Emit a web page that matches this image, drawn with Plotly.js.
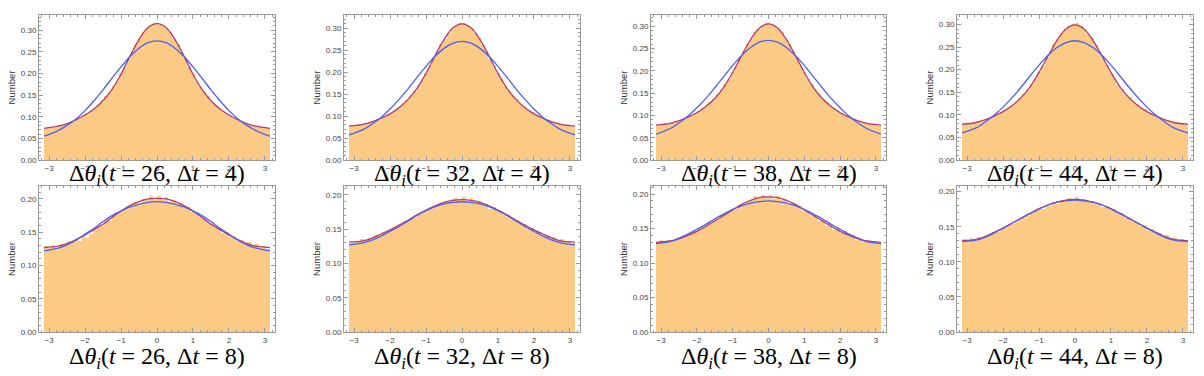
<!DOCTYPE html>
<html>
<head>
<meta charset="utf-8">
<script src="https://cdn.plot.ly/plotly-3.0.1.min.js"></script>
<style>
  html, body { margin: 0; padding: 0; background: #fff; }
  #chart { width: 1204px; height: 376px; }
</style>
</head>
<body>
<div id="chart"></div>
<script>
// histogram: 60 bins spanning [-pi, pi]
const BIN_COUNT = 60;

const T_VALUES = [26, 32, 38, 44];
const DT_VALUES = [4, 8];

// bar heights, left to right
const HIST_T26_D4 = [0.074,0.076,0.075,0.079,0.079,0.082,0.086,0.088,0.094,0.097,0.103,0.107,0.114,0.119,0.128,0.135,0.147,0.156,0.170,0.183,0.200,0.215,0.235,0.250,0.268,0.281,0.295,0.304,0.311,0.316,
  0.313,0.312,0.303,0.295,0.280,0.268,0.250,0.235,0.215,0.200,0.183,0.170,0.156,0.147,0.135,0.128,0.119,0.114,0.107,0.103,0.097,0.094,0.089,0.086,0.081,0.080,0.077,0.077,0.074,0.073];
const HIST_T32_D4 = [0.078,0.077,0.080,0.080,0.082,0.084,0.087,0.090,0.096,0.098,0.104,0.108,0.115,0.120,0.129,0.136,0.147,0.156,0.170,0.182,0.199,0.213,0.232,0.247,0.264,0.276,0.290,0.299,0.306,0.311,
  0.312,0.304,0.301,0.288,0.278,0.262,0.249,0.230,0.215,0.197,0.184,0.168,0.158,0.145,0.138,0.127,0.122,0.113,0.110,0.102,0.100,0.094,0.092,0.087,0.086,0.082,0.082,0.078,0.079,0.076];
const HIST_T38_D4 = [0.079,0.078,0.081,0.080,0.084,0.085,0.090,0.091,0.097,0.099,0.105,0.109,0.117,0.121,0.130,0.137,0.148,0.156,0.170,0.181,0.197,0.211,0.230,0.244,0.260,0.272,0.286,0.294,0.301,0.306,
  0.305,0.301,0.294,0.286,0.272,0.260,0.244,0.230,0.211,0.197,0.181,0.170,0.156,0.148,0.137,0.130,0.121,0.117,0.109,0.105,0.099,0.097,0.091,0.090,0.085,0.085,0.081,0.081,0.078,0.077];
const HIST_T44_D4 = [0.081,0.082,0.082,0.083,0.086,0.087,0.091,0.093,0.098,0.100,0.106,0.110,0.118,0.122,0.131,0.137,0.147,0.155,0.169,0.179,0.195,0.208,0.226,0.240,0.256,0.268,0.281,0.290,0.297,0.302,
  0.303,0.296,0.290,0.279,0.269,0.254,0.242,0.224,0.210,0.193,0.181,0.167,0.157,0.145,0.139,0.129,0.124,0.116,0.112,0.104,0.102,0.096,0.094,0.089,0.088,0.084,0.084,0.080,0.081,0.078];
const HIST_T26_D8 = [0.129,0.126,0.131,0.127,0.133,0.130,0.137,0.135,0.139,0.137,0.145,0.141,0.148,0.153,0.156,0.160,0.166,0.167,0.175,0.177,0.182,0.185,0.190,0.188,0.196,0.193,0.200,0.198,0.204,0.199,
  0.205,0.198,0.203,0.196,0.199,0.193,0.194,0.186,0.188,0.180,0.181,0.173,0.171,0.164,0.164,0.156,0.156,0.149,0.150,0.143,0.144,0.137,0.139,0.133,0.135,0.130,0.132,0.127,0.130,0.125];
const HIST_T32_D8 = [0.130,0.133,0.132,0.135,0.134,0.137,0.139,0.141,0.143,0.146,0.148,0.150,0.154,0.156,0.157,0.162,0.165,0.167,0.172,0.174,0.177,0.181,0.183,0.184,0.188,0.189,0.191,0.194,0.196,0.192,
  0.197,0.191,0.195,0.189,0.191,0.185,0.187,0.180,0.183,0.176,0.177,0.170,0.170,0.163,0.164,0.157,0.158,0.151,0.152,0.146,0.146,0.141,0.142,0.136,0.138,0.133,0.135,0.131,0.133,0.130];
const HIST_T38_D8 = [0.131,0.133,0.131,0.134,0.133,0.136,0.137,0.140,0.141,0.145,0.146,0.150,0.152,0.155,0.158,0.161,0.164,0.168,0.172,0.174,0.178,0.180,0.184,0.186,0.190,0.192,0.197,0.195,0.198,0.196,
  0.198,0.193,0.197,0.191,0.193,0.186,0.187,0.181,0.183,0.175,0.176,0.168,0.169,0.161,0.163,0.154,0.156,0.148,0.151,0.143,0.146,0.139,0.141,0.134,0.137,0.131,0.134,0.129,0.132,0.128];
const HIST_T44_D8 = [0.133,0.131,0.134,0.132,0.135,0.134,0.138,0.139,0.142,0.143,0.147,0.148,0.152,0.154,0.157,0.160,0.163,0.165,0.170,0.172,0.176,0.175,0.180,0.179,0.184,0.183,0.188,0.186,0.191,0.188,
  0.192,0.187,0.190,0.186,0.187,0.182,0.184,0.178,0.179,0.174,0.175,0.169,0.169,0.162,0.163,0.157,0.157,0.151,0.152,0.146,0.147,0.140,0.141,0.136,0.138,0.132,0.134,0.130,0.133,0.129];

// fitted curves, sampled at CURVE_X
const CURVE_X = [-3.14,-2.75,-2.5,-2.25,-2,-1.75,-1.5,-1.25,-1,-0.75,-0.5,-0.25,0,0.25,0.5,0.75,1,1.25,1.5,1.75,2,2.25,2.5,2.75,3.14];

const RED_T26_D4 = [0.073,0.078,0.084,0.093,0.104,0.118,0.137,0.163,0.198,0.240,0.278,0.306,0.315,0.306,0.278,0.240,0.198,0.163,0.137,0.118,0.104,0.093,0.084,0.078,0.073];
const BLUE_T26_D4 = [0.055,0.068,0.080,0.095,0.114,0.137,0.162,0.189,0.215,0.239,0.258,0.271,0.275,0.271,0.258,0.239,0.215,0.189,0.162,0.137,0.114,0.095,0.080,0.068,0.055];
const RED_T32_D4 = [0.077,0.081,0.087,0.095,0.105,0.119,0.138,0.163,0.197,0.237,0.274,0.301,0.310,0.301,0.274,0.237,0.197,0.163,0.138,0.119,0.105,0.095,0.087,0.081,0.077];
const BLUE_T32_D4 = [0.057,0.069,0.082,0.097,0.116,0.138,0.162,0.188,0.213,0.236,0.254,0.266,0.270,0.266,0.254,0.236,0.213,0.188,0.162,0.138,0.116,0.097,0.082,0.069,0.057];
const RED_T38_D4 = [0.078,0.082,0.088,0.096,0.106,0.120,0.138,0.163,0.196,0.234,0.270,0.296,0.305,0.296,0.270,0.234,0.196,0.163,0.138,0.120,0.106,0.096,0.088,0.082,0.078];
const BLUE_T38_D4 = [0.058,0.070,0.083,0.098,0.117,0.138,0.162,0.187,0.212,0.234,0.252,0.264,0.268,0.264,0.252,0.234,0.212,0.187,0.162,0.138,0.117,0.098,0.083,0.070,0.058];
const RED_T44_D4 = [0.079,0.083,0.089,0.097,0.107,0.120,0.138,0.162,0.194,0.230,0.265,0.290,0.299,0.290,0.265,0.230,0.194,0.162,0.138,0.120,0.107,0.097,0.089,0.083,0.079];
const BLUE_T44_D4 = [0.060,0.071,0.084,0.099,0.117,0.138,0.161,0.186,0.210,0.232,0.249,0.260,0.264,0.260,0.249,0.232,0.210,0.186,0.161,0.138,0.117,0.099,0.084,0.071,0.060];

const RED_T26_D8 = [0.127,0.129,0.133,0.139,0.146,0.154,0.162,0.172,0.182,0.190,0.196,0.200,0.201,0.200,0.196,0.190,0.182,0.172,0.162,0.154,0.146,0.139,0.133,0.129,0.127];
const BLUE_T26_D8 = [0.122,0.126,0.131,0.138,0.147,0.156,0.166,0.175,0.182,0.188,0.192,0.195,0.196,0.195,0.192,0.188,0.182,0.175,0.166,0.156,0.147,0.138,0.131,0.126,0.122];
const RED_T32_D8 = [0.131,0.133,0.137,0.143,0.149,0.156,0.163,0.171,0.178,0.184,0.189,0.192,0.193,0.192,0.189,0.184,0.178,0.171,0.163,0.156,0.149,0.143,0.137,0.133,0.131];
const BLUE_T32_D8 = [0.127,0.130,0.134,0.140,0.147,0.154,0.162,0.170,0.177,0.183,0.187,0.189,0.190,0.189,0.187,0.183,0.177,0.170,0.162,0.154,0.147,0.140,0.134,0.130,0.127];
const RED_T38_D8 = [0.130,0.132,0.135,0.140,0.146,0.153,0.161,0.169,0.177,0.185,0.191,0.195,0.196,0.195,0.191,0.185,0.177,0.169,0.161,0.153,0.146,0.140,0.135,0.132,0.130];
const BLUE_T38_D8 = [0.128,0.131,0.136,0.142,0.149,0.156,0.164,0.171,0.178,0.183,0.187,0.189,0.190,0.189,0.187,0.183,0.178,0.171,0.164,0.156,0.149,0.142,0.136,0.131,0.128];
const RED_T44_D8 = [0.130,0.132,0.136,0.142,0.148,0.155,0.162,0.169,0.176,0.181,0.185,0.188,0.189,0.188,0.185,0.181,0.176,0.169,0.162,0.155,0.148,0.142,0.136,0.132,0.130];
const BLUE_T44_D8 = [0.129,0.131,0.135,0.141,0.148,0.155,0.162,0.169,0.175,0.181,0.185,0.187,0.188,0.187,0.185,0.181,0.175,0.169,0.162,0.155,0.148,0.141,0.135,0.131,0.129];

const HISTS = [HIST_T26_D4, HIST_T32_D4, HIST_T38_D4, HIST_T44_D4, HIST_T26_D8, HIST_T32_D8, HIST_T38_D8, HIST_T44_D8];
const REDS = [RED_T26_D4, RED_T32_D4, RED_T38_D4, RED_T44_D4, RED_T26_D8, RED_T32_D8, RED_T38_D8, RED_T44_D8];
const BLUES = [BLUE_T26_D4, BLUE_T32_D4, BLUE_T38_D4, BLUE_T44_D4, BLUE_T26_D8, BLUE_T32_D8, BLUE_T38_D8, BLUE_T44_D8];

// layout geometry (pixels in a 1204x376 page)
const W = 1204, H = 376;
const COL_PX = [[39, 275], [344, 580], [651, 886], [957, 1193]];
const ROW_PX = [[15, 160], [186, 332]];
const Y_TOP = [0.335, 0.330, 0.325, 0.321, 0.2195, 0.213, 0.2117, 0.2081];
const TITLE_Y_PX = [175, 358];

const BAR_COLOR = '#FBCB86';
const RED = '#B23A6C';
const BLUE = '#4F5FEE';
const FRAME = '#9a9a9a';

const traces = [];
const layout = {
  width: W, height: H,
  margin: { l: 0, r: 0, t: 0, b: 0 },
  paper_bgcolor: '#fff',
  plot_bgcolor: '#fff',
  showlegend: false,
  bargap: 0,
  font: { family: '"Liberation Sans", Arial, sans-serif', size: 8, color: '#444' },
  annotations: [],
};

const dx = 2 * Math.PI / BIN_COUNT;

for (let i = 0; i < 8; i++) {
  const row = Math.floor(i / 4);
  const col = i % 4;
  const id = i === 0 ? '' : String(i + 1);
  const xa = 'x' + id, ya = 'y' + id;

  traces.push({
    type: 'bar', xaxis: xa, yaxis: ya,
    x0: -Math.PI + dx / 2, dx: dx, y: HISTS[i],
    marker: { color: BAR_COLOR, line: { width: 0 } },
    hoverinfo: 'skip',
  });
  traces.push({
    type: 'scatter', mode: 'lines', xaxis: xa, yaxis: ya,
    x: CURVE_X, y: REDS[i],
    line: { color: RED, width: 1.3, shape: 'spline', smoothing: 1 },
  });
  traces.push({
    type: 'scatter', mode: 'lines', xaxis: xa, yaxis: ya,
    x: CURVE_X, y: BLUES[i],
    line: { color: BLUE, width: 1.3, shape: 'spline', smoothing: 1 },
  });

  const [l, r] = COL_PX[col];
  const [t, b] = ROW_PX[row];

  layout['xaxis' + id] = {
    anchor: ya,
    domain: [l / W, r / W],
    range: [-3.28, 3.28],
    tickmode: 'linear', tick0: 0, dtick: 1,
    ticks: 'inside', ticklen: 4, tickcolor: FRAME, tickwidth: 1,
    minor: { ticks: 'inside', dtick: 0.2, ticklen: 2, tickcolor: FRAME },
    showline: true, linecolor: FRAME, linewidth: 1, mirror: 'allticks',
    showgrid: false, zeroline: false,
    tickfont: { size: 8, color: '#444' },
    fixedrange: true,
  };
  layout['yaxis' + id] = {
    anchor: xa,
    domain: [1 - b / H, 1 - t / H],
    range: [0, Y_TOP[i]],
    tickmode: 'linear', tick0: 0, dtick: 0.05, tickformat: '.2f',
    ticks: 'inside', ticklen: 4, tickcolor: FRAME, tickwidth: 1,
    minor: { ticks: 'inside', dtick: 0.01, ticklen: 2, tickcolor: FRAME },
    showline: true, linecolor: FRAME, linewidth: 1, mirror: 'allticks',
    showgrid: false, zeroline: false,
    tickfont: { size: 8, color: '#444' },
    title: { text: 'Number', font: { size: 9.5, color: '#333' }, standoff: 3 },
    fixedrange: true,
  };

  layout.annotations.push({
    xref: 'paper', yref: 'paper',
    x: (l + r) / 2 / W, y: 1 - TITLE_Y_PX[row] / H,
    xanchor: 'center', yanchor: 'middle',
    showarrow: false,
    text: 'Δ<i>θ</i><sub><i>i</i></sub>(<i>t</i> = ' + T_VALUES[col] + ', Δ<i>t</i> = ' + DT_VALUES[row] + ')',
    font: { family: '"Liberation Serif", "DejaVu Serif", serif', size: 24, color: '#000' },
  });
}

Plotly.newPlot('chart', traces, layout, { displayModeBar: false, staticPlot: true });
</script>
</body>
</html>
